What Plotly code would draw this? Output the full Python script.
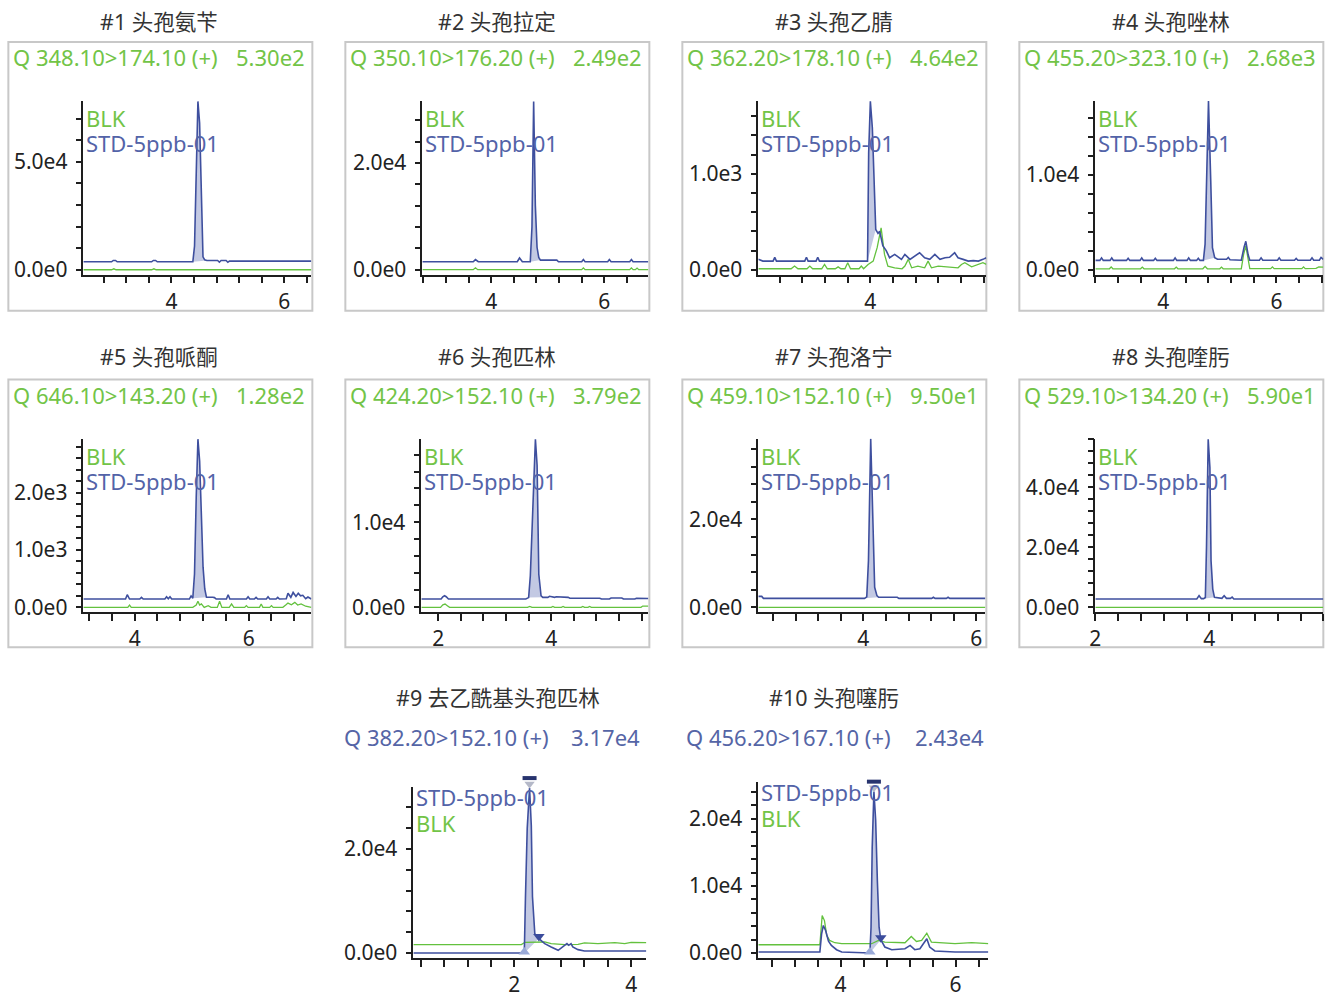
import plotly.graph_objects as go

W, H = 1327, 996

# ---------------- text data ----------------
titles = ["#1 头孢氨苄", "#2 头孢拉定", "#3 头孢乙腈", "#4 头孢唑林", "#5 头孢哌酮",
          "#6 头孢匹林", "#7 头孢洛宁", "#8 头孢喹肟", "#9 去乙酰基头孢匹林", "#10 头孢噻肟"]
transitions = ["Q 348.10>174.10 (+)", "Q 350.10>176.20 (+)", "Q 362.20>178.10 (+)",
               "Q 455.20>323.10 (+)", "Q 646.10>143.20 (+)", "Q 424.20>152.10 (+)",
               "Q 459.10>152.10 (+)", "Q 529.10>134.20 (+)", "Q 382.20>152.10 (+)",
               "Q 456.20>167.10 (+)"]
max_intensity = ["5.30e2", "2.49e2", "4.64e2", "2.68e3", "1.28e2", "3.79e2",
                 "9.50e1", "5.90e1", "3.17e4", "2.43e4"]
blk_name = "BLK"
std_name = "STD-5ppb-01"

# ---------------- chromatogram data (retention time, intensity) ----------------
p1_std_x = [2.44, 2.94, 2.97, 3.01, 3.04, 3.65, 3.68, 3.72, 3.75, 4.38, 4.41, 4.44, 4.47, 4.50, 4.53, 4.56, 4.59, 4.63, 4.82, 4.85, 4.88, 4.97, 5.00, 5.03, 6.48]
p1_std_y = [3700, 3700, 4300, 4300, 3700, 3700, 4300, 4300, 3700, 3700, 11000, 49000, 78000, 68000, 40000, 6000, 4600, 4300, 4300, 3500, 4300, 4300, 3500, 4000, 4000]
p1_blk_x = [2.44, 2.94, 2.98, 3.02, 3.65, 3.69, 3.73, 6.48]
p1_blk_y = [0, 0, 450, 0, 0, 450, 0, 0]
p1_peak = [4.38, 4.63]

p2_std_x = [2.78, 3.68, 3.72, 3.77, 4.46, 4.50, 4.55, 4.69, 4.72, 4.75, 4.78, 4.81, 4.84, 4.87, 5.16, 5.19, 5.23, 5.60, 5.63, 5.66, 6.06, 6.09, 6.12, 6.45, 6.48, 6.51, 6.78]
p2_std_y = [1500, 1500, 1900, 1500, 1500, 2200, 1500, 1500, 8000, 31500, 12000, 4200, 2300, 1800, 1800, 1500, 1500, 1500, 1900, 1500, 1500, 1900, 1500, 1500, 1900, 1500, 1500]
p2_blk_x = [2.78, 3.68, 3.72, 3.76, 5.60, 5.63, 5.66, 6.45, 6.48, 6.51, 6.55, 6.58, 6.61, 6.78]
p2_blk_y = [0, 0, 350, 0, 0, 350, 0, 0, 350, 0, 0, 300, 0, 0]
p2_peak = [4.69, 4.87]

p3_std_x = [2.02, 2.10, 2.28, 2.31, 2.34, 2.84, 2.87, 2.90, 3.04, 3.07, 3.10, 3.95, 3.97, 4.00, 4.035, 4.065, 4.095, 4.135, 4.165, 4.22, 4.28, 4.34, 4.43, 4.55, 4.61, 4.70, 4.78, 4.87, 4.96, 5.05, 5.14, 5.23, 5.32, 5.40, 5.49, 5.55, 5.64, 5.73, 5.82, 5.91, 5.99, 6.05]
p3_std_y = [108, 90, 90, 128, 90, 90, 130, 90, 90, 130, 90, 90, 1220, 1756, 1480, 850, 420, 380, 400, 250, 200, 125, 160, 108, 160, 108, 140, 177, 125, 108, 160, 108, 125, 130, 177, 125, 108, 90, 95, 90, 108, 125]
p3_blk_x = [2.02, 2.60, 2.66, 2.72, 2.88, 2.93, 2.98, 3.14, 3.19, 3.24, 3.38, 3.43, 3.48, 3.55, 3.60, 3.65, 3.80, 3.84, 3.88, 3.96, 4.05, 4.12, 4.19, 4.25, 4.31, 4.43, 4.56, 4.61, 4.67, 4.73, 4.84, 4.96, 5.02, 5.08, 5.20, 5.37, 5.55, 5.61, 5.67, 5.79, 5.91, 5.99, 6.05]
p3_blk_y = [10, 10, 38, 10, 10, 38, 10, 10, 55, 10, 10, 30, 10, 10, 73, 10, 10, 38, 10, 55, 90, 230, 437, 160, 38, 20, 10, 38, 108, 20, 38, 20, 90, 20, 38, 30, 20, 55, 73, 30, 55, 73, 55]
p3_peak = [3.95, 4.095]

p4_std_x = [2.80, 2.88, 2.91, 2.94, 3.06, 3.09, 3.12, 3.35, 3.38, 3.41, 3.59, 3.62, 3.65, 3.83, 3.86, 3.89, 4.18, 4.21, 4.24, 4.42, 4.45, 4.48, 4.59, 4.62, 4.65, 4.71, 4.74, 4.77, 4.80, 4.84, 4.87, 4.91, 4.96, 5.12, 5.15, 5.18, 5.38, 5.43, 5.46, 5.50, 5.53, 5.70, 5.73, 5.76, 6.02, 6.05, 6.08, 6.32, 6.35, 6.38, 6.60, 6.63, 6.66, 6.76, 6.79, 6.83]
p4_std_y = [985, 985, 1250, 985, 985, 1250, 985, 985, 1200, 985, 985, 1250, 985, 985, 1200, 985, 985, 1250, 985, 985, 1250, 985, 985, 1200, 985, 985, 2700, 10950, 17800, 9360, 2320, 1270, 1100, 1100, 1300, 1050, 1000, 2400, 3000, 1600, 1000, 1000, 1250, 1000, 1000, 1250, 1000, 1000, 1200, 1000, 1000, 1250, 1000, 1000, 1300, 1100]
p4_blk_x = [2.80, 3.05, 3.08, 3.11, 3.60, 3.63, 3.66, 4.20, 4.23, 4.26, 4.70, 4.74, 4.78, 5.00, 5.03, 5.06, 5.38, 5.42, 5.46, 5.50, 5.53, 5.90, 5.93, 5.96, 6.45, 6.48, 6.51, 6.70, 6.75, 6.83]
p4_blk_y = [100, 100, 300, 100, 100, 280, 100, 100, 280, 100, 100, 350, 100, 100, 280, 100, 100, 1600, 2500, 900, 120, 120, 300, 120, 120, 300, 120, 150, 300, 280]
p4_peak = [4.71, 4.91]

p5_std_x = [3.10, 3.84, 3.87, 3.91, 4.09, 4.12, 4.15, 4.53, 4.56, 4.59, 4.62, 4.65, 4.96, 4.99, 5.02, 5.05, 5.08, 5.11, 5.14, 5.17, 5.20, 5.23, 5.26, 5.37, 5.40, 5.43, 5.61, 5.64, 5.67, 5.96, 5.99, 6.02, 6.10, 6.13, 6.16, 6.31, 6.34, 6.37, 6.48, 6.51, 6.54, 6.66, 6.69, 6.74, 6.78, 6.83, 6.87, 6.91, 6.95, 7.00, 7.04, 7.10]
p5_std_y = [145, 145, 220, 145, 145, 175, 145, 145, 185, 150, 185, 145, 145, 200, 160, 580, 1914, 2929, 2550, 1566, 700, 320, 175, 175, 170, 145, 145, 220, 145, 145, 185, 145, 145, 175, 145, 145, 185, 145, 145, 175, 145, 150, 245, 175, 260, 190, 245, 200, 210, 150, 180, 145]
p5_blk_x = [3.10, 3.88, 3.91, 3.94, 5.02, 5.08, 5.11, 5.14, 5.17, 5.22, 5.29, 5.34, 5.45, 5.49, 5.53, 5.66, 5.70, 5.74, 5.93, 5.96, 5.99, 6.19, 6.22, 6.25, 6.37, 6.40, 6.43, 6.60, 6.65, 6.69, 6.75, 6.81, 6.86, 6.92, 7.00, 7.10]
p5_blk_y = [0, 0, 40, 0, 0, 40, 105, 40, 60, 0, 30, 0, 0, 105, 0, 0, 60, 0, 0, 30, 0, 0, 60, 0, 0, 30, 0, 0, 40, 75, 45, 87, 40, 60, 20, 0]
p5_peak = [5.02, 5.26]

p6_std_x = [1.70, 2.05, 2.08, 2.11, 2.14, 2.18, 3.55, 3.60, 3.63, 3.68, 3.72, 3.75, 3.78, 3.82, 3.85, 3.94, 3.97, 4.06, 4.09, 4.30, 4.33, 4.86, 4.89, 5.03, 5.06, 5.25, 5.28, 5.48, 5.51, 5.72]
p6_std_y = [980, 980, 1250, 1370, 1250, 980, 980, 1150, 3720, 12900, 19800, 16700, 3900, 1370, 1180, 1180, 1300, 1180, 1250, 1180, 1080, 1080, 980, 980, 1100, 1100, 980, 980, 1080, 1050]
p6_blk_x = [1.70, 2.04, 2.08, 2.12, 2.16, 2.20, 3.58, 3.62, 3.66, 4.00, 4.03, 4.06, 4.18, 4.21, 4.24, 4.53, 4.56, 4.59, 4.65, 4.68, 4.71, 5.59, 5.62, 5.72]
p6_blk_y = [0, 0, 300, 390, 200, 0, 0, 120, 0, 0, 110, 0, 0, 100, 0, 0, 110, 0, 0, 110, 0, 0, 150, 150]
p6_peak = [3.60, 3.85]

p7_std_x = [2.14, 2.20, 2.23, 4.02, 4.06, 4.09, 4.13, 4.17, 4.20, 4.24, 4.27, 4.44, 4.60, 4.63, 5.21, 5.24, 5.27, 5.47, 5.50, 5.53, 6.16]
p7_std_y = [2500, 2500, 2050, 2050, 2400, 10600, 38300, 15200, 4560, 2660, 2300, 2300, 2300, 2050, 2050, 2300, 2050, 2050, 2300, 2050, 2050]
p7_blk_x = [2.14, 6.16]
p7_blk_y = [0, 0]
p7_peak = [4.02, 4.27]

p8_std_x = [2.00, 3.78, 3.82, 3.86, 3.90, 3.93, 3.95, 3.98, 4.01, 4.03, 4.06, 4.09, 4.22, 4.26, 4.30, 4.37, 4.40, 4.43, 6.00]
p8_std_y = [2780, 2780, 3900, 2900, 2900, 3300, 20000, 56000, 46600, 15500, 6100, 3330, 3000, 3900, 3000, 3000, 3400, 2780, 2780]
p8_blk_x = [2.00, 6.00]
p8_blk_y = [0, 0]
p8_peak = [3.90, 4.09]

p9_std_x = [0.27, 2.17, 2.19, 2.22, 2.26, 2.29, 2.31, 2.35, 2.42, 2.52, 2.63, 2.75, 2.86, 2.90, 2.93, 2.97, 3.00, 3.09, 3.20, 3.45, 3.60, 3.75, 3.90, 4.05, 4.26]
p9_std_y = [0, 0, 10800, 24000, 31700, 24400, 10800, 3700, 2770, 1800, 1160, 520, 1480, 1800, 1480, 1800, 1160, 645, 390, 390, 520, 390, 450, 390, 390]
p9_blk_x = [0.27, 2.12, 2.18, 2.40, 2.52, 2.63, 2.86, 3.09, 3.20, 3.43, 3.60, 3.72, 3.89, 4.00, 4.26]
p9_blk_y = [1610, 1610, 2060, 2060, 2120, 1800, 1610, 1670, 1930, 1800, 1930, 1990, 1800, 2060, 1990]
p9_peak = [2.17, 2.42]

p10_std_x = [2.57, 3.64, 3.67, 3.70, 3.74, 3.79, 3.84, 3.93, 4.02, 4.51, 4.53, 4.55, 4.58, 4.61, 4.64, 4.67, 4.70, 4.77, 4.89, 5.12, 5.21, 5.29, 5.38, 5.47, 5.50, 5.55, 5.64, 5.99, 6.57]
p10_std_y = [150, 150, 2860, 4100, 3350, 1775, 1130, 490, 150, 0, 3850, 15700, 24060, 19870, 10750, 3850, 1970, 890, 490, 640, 1130, 490, 640, 1630, 2120, 890, 300, 150, 150]
p10_blk_x = [2.57, 3.64, 3.68, 3.72, 3.76, 3.81, 3.90, 4.02, 4.54, 4.66, 4.77, 5.12, 5.23, 5.32, 5.41, 5.50, 5.58, 5.99, 6.28, 6.57]
p10_blk_y = [1230, 1230, 5570, 4830, 2610, 1870, 1530, 1380, 1380, 1870, 1630, 1530, 2460, 1720, 1870, 2960, 1630, 1380, 1530, 1380]
p10_peak = [4.51, 4.70]

# x-axis labelled values, y-axis tick step / top tick / labelled values
x_labels = [[4, 6], [4, 6], [4], [4, 6], [4, 6], [2, 4], [4, 6], [2, 4], [2, 4], [4, 6]]
y_step = [1e4, 4e3, 200, 2e3, 200, 2e3, 4e3, 4e3, 4e3, 2e3]
y_top_tick = [7e4, 2.8e4, 1600, 1.6e4, 2800, 1.8e4, 3.6e4, 5.6e4, 3.2e4, 2.4e4]
y_labels = [[0, 5e4], [0, 2e4], [0, 1e3], [0, 1e4], [0, 1e3, 2e3], [0, 1e4],
            [0, 2e4], [0, 2e4, 4e4], [0, 2e4], [0, 1e4, 2e4]]

panels = [
    (p1_std_x, p1_std_y, p1_blk_x, p1_blk_y, p1_peak),
    (p2_std_x, p2_std_y, p2_blk_x, p2_blk_y, p2_peak),
    (p3_std_x, p3_std_y, p3_blk_x, p3_blk_y, p3_peak),
    (p4_std_x, p4_std_y, p4_blk_x, p4_blk_y, p4_peak),
    (p5_std_x, p5_std_y, p5_blk_x, p5_blk_y, p5_peak),
    (p6_std_x, p6_std_y, p6_blk_x, p6_blk_y, p6_peak),
    (p7_std_x, p7_std_y, p7_blk_x, p7_blk_y, p7_peak),
    (p8_std_x, p8_std_y, p8_blk_x, p8_blk_y, p8_peak),
    (p9_std_x, p9_std_y, p9_blk_x, p9_blk_y, p9_peak),
    (p10_std_x, p10_std_y, p10_blk_x, p10_blk_y, p10_peak),
]

# ---------------- layout geometry (screen pixels) ----------------
geom = [
    (82, 310, 274, 100, 2.44, 6.48, -2300, 78240),
    (421, 647, 274, 100, 2.78, 6.78, -935, 31600),
    (757, 985, 274, 100, 2.02, 6.05, -52, 1760),
    (1094, 1322, 274, 100, 2.80, 6.83, -526, 17800),
    (82, 310, 612, 438, 3.10, 7.10, -87, 2940),
    (420, 647, 612, 438, 1.70, 5.72, -590, 19880),
    (757, 984, 612, 438, 2.14, 6.16, -1135, 38365),
    (1094, 1322, 612, 438, 2.00, 6.00, -1670, 56270),
    (412, 645, 958, 787, 0.27, 4.26, -960, 31870),
    (757, 987, 958, 782, 2.57, 6.57, -750, 25470),
]
boxes = [(7, 311, 41, 310), (344, 648, 41, 310), (681, 985, 41, 310), (1018, 1322, 41, 310),
         (7, 311, 379, 647), (344, 648, 379, 647), (681, 985, 379, 647), (1018, 1322, 379, 647)]
title_pos = [(158, 20.5), (496, 20.5), (833, 20.5), (1170, 20.5), (158, 356), (496, 356),
             (833, 356), (1170, 356), (497, 697), (833, 697)]
header_pos = [(10, 306, 56), (347, 643, 56), (684, 980, 56), (1021, 1317, 56),
              (10, 306, 394), (347, 643, 394), (684, 980, 394), (1021, 1317, 394),
              (341, 641, 737), (683, 985, 737)]

# screenshot pixel -> figure pixel (measured page placement of the figure)
OX, SX = 4.64, 0.9955
OY, SY = 6.0, 0.993

FONT = "Noto Sans, Noto Sans CJK SC, sans-serif"
BLUE = "#3e4f9e"
BLUE_TXT = "#5363a8"
GREEN = "#63c13e"
GREEN_TXT = "#72c447"
FILL = "#c3c9e3"
AXIS = "#1e1e1e"


def px(x):
    return max((x - OX) / SX, 0.5) / W


def py(y):
    return 1 - max((y - OY) / SY, 0.5) / H


def fmt(v):
    if v == 0:
        return "0.0e0"
    e = 0
    m = v
    while m >= 10:
        m /= 10
        e += 1
    return f"{m:.1f}e{e}"


fig = go.Figure()
layout = dict(width=W, height=H, margin=dict(l=0, r=0, t=0, b=0), autosize=False,
              paper_bgcolor="white", plot_bgcolor="rgba(0,0,0,0)", showlegend=False,
              font=dict(family=FONT, size=21, color="#222"))
annotations = []
shapes = []

for i, (sx, sy, bx, by, pk) in enumerate(panels):
    n = i + 1
    xa = "x" if n == 1 else f"x{n}"
    ya = "y" if n == 1 else f"y{n}"
    al, ar, ab, at, x0, x1, y0, y1 = geom[i]

    xt, xtt = [], []
    k = 0
    while k * 0.4 <= x1 + 1e-9:
        v = round(k * 0.4, 2)
        if v >= x0 - 1e-9:
            xt.append(v)
            xtt.append(str(int(round(v))) if any(abs(v - L) < 1e-6 for L in x_labels[i]) else "")
        k += 1
    yt, ytt = [], []
    v = 0.0
    while v <= y_top_tick[i] + 1e-6:
        yt.append(v)
        ytt.append(fmt(v) if any(abs(v - L) < 1e-6 for L in y_labels[i]) else "")
        v += y_step[i]

    layout["xaxis" if n == 1 else f"xaxis{n}"] = dict(
        domain=[px(al), px(ar)], range=[x0, x1], anchor=ya,
        showline=True, linecolor=AXIS, linewidth=1.5,
        ticks="outside", ticklen=7, tickwidth=1.5, tickcolor=AXIS,
        tickmode="array", tickvals=xt, ticktext=xtt, ticklabelstandoff=0,
        showgrid=False, zeroline=False, tickfont=dict(size=21, color="#222", family=FONT),
        fixedrange=True)
    layout["yaxis" if n == 1 else f"yaxis{n}"] = dict(
        domain=[py(ab), py(at)], range=[y0, y1], anchor=xa,
        showline=True, linecolor=AXIS, linewidth=1.5,
        ticks="outside", ticklen=6, tickwidth=1.5, tickcolor=AXIS,
        tickmode="array", tickvals=yt, ticktext=ytt, ticklabelstandoff=4,
        showgrid=False, zeroline=False, tickfont=dict(size=21, color="#222", family=FONT),
        fixedrange=True)

    pxs = [x for x in sx if pk[0] - 1e-9 <= x <= pk[1] + 1e-9]
    pys = [y for x, y in zip(sx, sy) if pk[0] - 1e-9 <= x <= pk[1] + 1e-9]
    fig.add_trace(go.Scatter(x=pxs, y=pys, xaxis=xa, yaxis=ya, mode="lines",
                             fill="toself", fillcolor=FILL, line=dict(width=0),
                             hoverinfo="skip"))
    fig.add_trace(go.Scatter(x=bx, y=by, xaxis=xa, yaxis=ya, mode="lines",
                             line=dict(color=GREEN, width=1.3), name=blk_name))
    fig.add_trace(go.Scatter(x=sx, y=sy, xaxis=xa, yaxis=ya, mode="lines",
                             line=dict(color=BLUE, width=1.6), name=std_name))

    if n >= 9:
        # invisible companion y axis with the same scale, extended upward so the
        # apex markers above the axis top are kept
        per_px = (y1 - y0) / (ab - at)
        extra = 20
        ym = "y" + str(n + 2)
        layout["yaxis" + str(n + 2)] = dict(domain=[py(ab), py(at - extra)],
                                           range=[y0, y1 + extra * per_px], anchor=xa,
                                           visible=False, fixedrange=True)
        ia = pys.index(max(pys))
        ax_, ay_ = pxs[ia], pys[ia]
        fig.add_trace(go.Scatter(x=[ax_], y=[ay_ + 4 * per_px], xaxis=xa, yaxis=ym, mode="markers",
                                 marker=dict(symbol="triangle-down", size=9, color="#b4b8c8"),
                                 cliponaxis=False))
        fig.add_trace(go.Scatter(x=[ax_], y=[ay_ + 10 * per_px], xaxis=xa, yaxis=ym, mode="markers",
                                 marker=dict(symbol="line-ew", size=10, color="#27336e",
                                             line=dict(width=4, color="#27336e")),
                                 cliponaxis=False))
        fig.add_trace(go.Scatter(x=[pxs[0]], y=[pys[0] + 1 * per_px], xaxis=xa, yaxis=ym, mode="markers",
                                 marker=dict(symbol="triangle-up", size=10, color="#9aaad8"),
                                 cliponaxis=False))
        fig.add_trace(go.Scatter(x=[pxs[-1]], y=[pys[-1] + 2 * per_px], xaxis=xa, yaxis=ym, mode="markers",
                                 marker=dict(symbol="triangle-down", size=10, color="#3b4c9c"),
                                 cliponaxis=False))

    tx, ty = title_pos[i]
    annotations.append(dict(x=px(tx), y=py(ty), xref="paper", yref="paper", text=titles[i],
                            showarrow=False, xanchor="center", yanchor="middle", borderpad=0,
                            font=dict(size=21.5, color="#333", family=FONT)))
    hl, hr, hy = header_pos[i]
    hcol = GREEN_TXT if n <= 8 else "#5565a6"
    annotations.append(dict(x=px(hl), y=py(hy), xref="paper", yref="paper", text=transitions[i],
                            showarrow=False, xanchor="left", yanchor="middle",
                            font=dict(size=22, color=hcol, family=FONT)))
    annotations.append(dict(x=px(hr), y=py(hy), xref="paper", yref="paper", text=max_intensity[i],
                            showarrow=False, xanchor="right", yanchor="middle",
                            font=dict(size=22, color=hcol, family=FONT)))
    if n <= 8:
        l1, l2 = (blk_name, GREEN_TXT), (std_name, BLUE_TXT)
        ly1, ly2 = at + 17, at + 42
    else:
        l1, l2 = (std_name, BLUE_TXT), (blk_name, GREEN_TXT)
        ly1, ly2 = at + 10, at + 36
    for (txt, col), ly in ((l1, ly1), (l2, ly2)):
        annotations.append(dict(x=px(al + 1), y=py(ly), xref="paper", yref="paper", text=txt,
                                showarrow=False, xanchor="left", yanchor="middle",
                                font=dict(size=22, color=col, family=FONT)))

for (bx0, bx1, by0, by1) in boxes:
    shapes.append(dict(type="rect", xref="paper", yref="paper", x0=px(bx0), x1=px(bx1),
                       y0=py(by1), y1=py(by0), line=dict(color="#c8c8c8", width=2),
                       fillcolor="rgba(0,0,0,0)", layer="below"))

layout["annotations"] = annotations
layout["shapes"] = shapes
fig.update_layout(**layout)
fig.write_html("out.html", config=dict(displayModeBar=False),
               post_script="document.body.style.margin='7px 0px 0px 0px';document.body.style.overflow='hidden';")
